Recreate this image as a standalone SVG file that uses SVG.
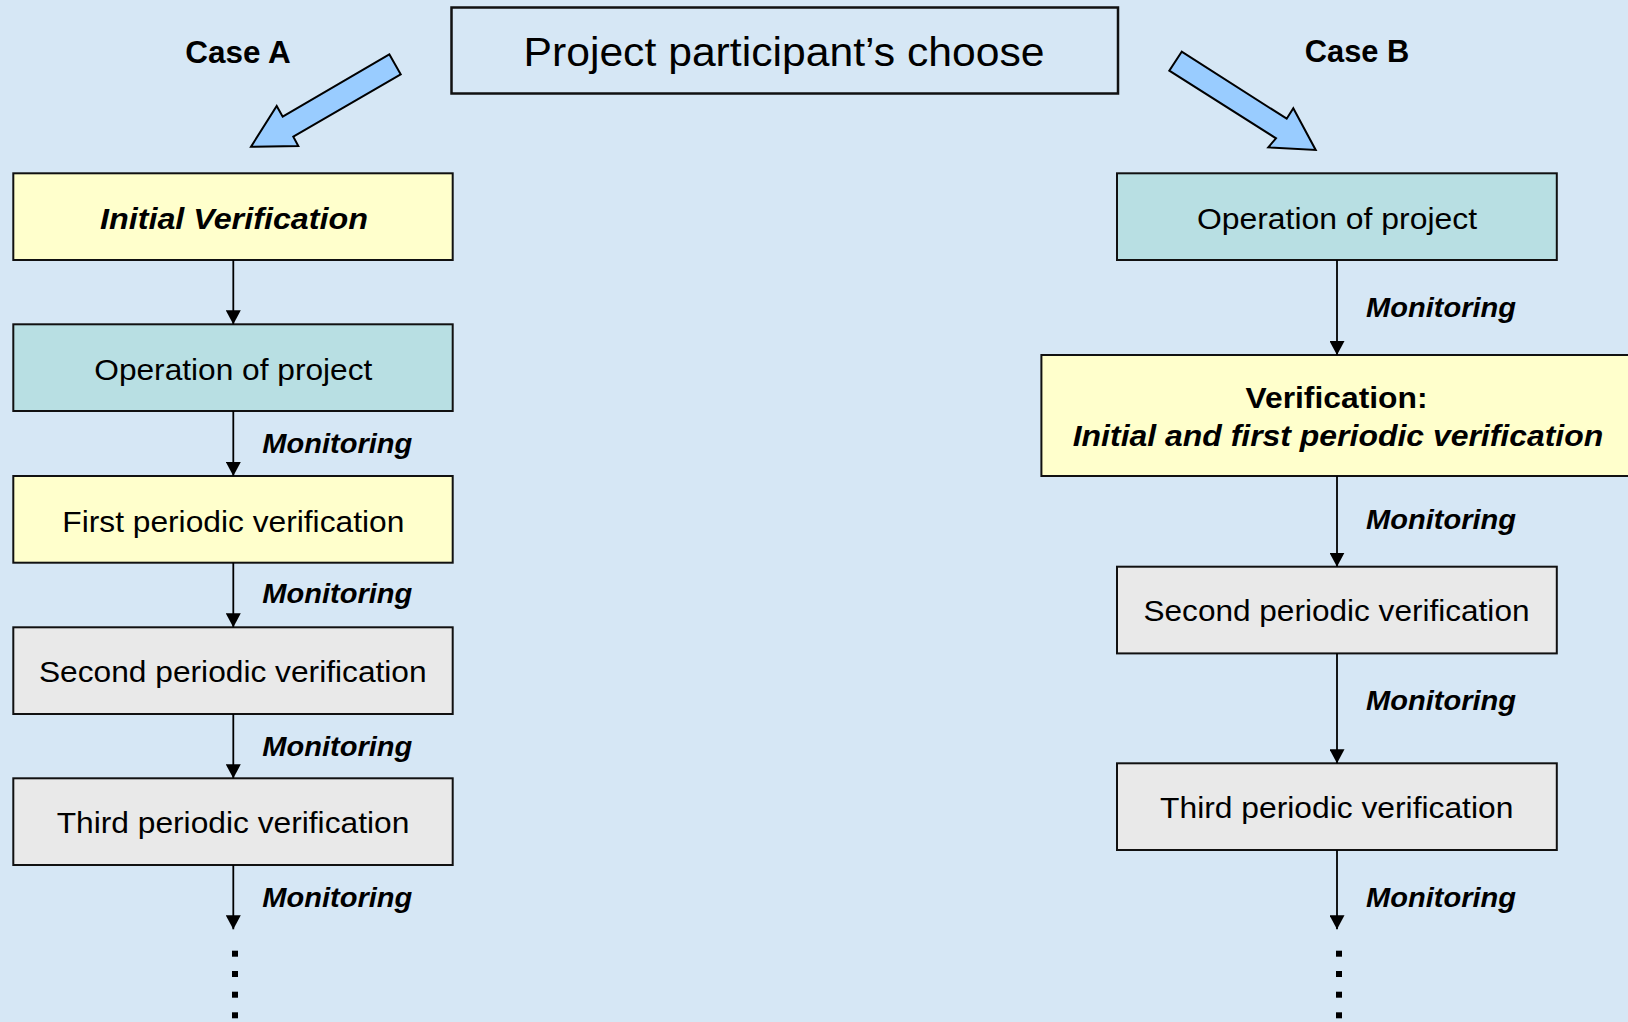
<svg xmlns="http://www.w3.org/2000/svg" width="1628" height="1022" viewBox="0 0 1628 1022">
<style>
.box{stroke:#111;stroke-width:2}
.yel{fill:#FFFFCC}
.teal{fill:#B8DFE3}
.grey{fill:#E9E9E9}
.t{font-family:"Liberation Sans",Arial,sans-serif;font-size:29px;fill:#000;text-anchor:middle}
.bi{font-weight:bold;font-style:italic}
.b{font-weight:bold}
.mon{font-family:"Liberation Sans",Arial,sans-serif;font-size:28px;font-weight:bold;font-style:italic;fill:#000}
.conn{stroke:#000;stroke-width:1.8;fill:none;marker-end:url(#ah)}
.big{fill:#99CCFF;stroke:#000;stroke-width:2;stroke-linejoin:miter}
.dot{fill:#000}
</style>
<defs>
<marker id="ah" viewBox="0 0 14 15" refX="14" refY="7.5" markerWidth="14" markerHeight="15" markerUnits="userSpaceOnUse" orient="auto">
<path d="M0,0 L14,7.5 L0,15 Z" fill="#000"/>
</marker>
</defs>
<rect x="0" y="0" width="1628" height="1022" fill="#D6E7F5"/>

<g id="title">
<rect x="451.5" y="7.5" width="666.5" height="86" fill="none" stroke="#111" stroke-width="2.5"/>
<text class="t" x="784" y="66" style="font-size:40px" textLength="521" lengthAdjust="spacingAndGlyphs">Project participant’s choose</text>
</g>

<g id="caseA-label">
<text class="t b" x="238" y="63.3" style="font-size:31px" textLength="105.5" lengthAdjust="spacingAndGlyphs">Case A</text>
</g>
<g id="caseB-label">
<text class="t b" x="1357" y="62.3" style="font-size:31px" textLength="104.5" lengthAdjust="spacingAndGlyphs">Case B</text>
</g>

<g id="arrowA">
<polygon class="big" points="389.3,54.3 400.7,74.3 293.3,136.7 298.3,146 251,146.7 276.7,106 282.7,116.7"/>
</g>
<g id="arrowB">
<polygon class="big" points="1181.7,51.7 1169.3,70.7 1276,138.3 1268.3,147.3 1315.7,150 1293.3,108.3 1286.7,118.7"/>
</g>

<!-- Case A column -->
<g id="a-initial">
<rect class="box yel" x="13.3" y="173.3" width="439.4" height="86.7"/>
<text class="t bi" x="234" y="229.3" textLength="268" lengthAdjust="spacingAndGlyphs">Initial Verification</text>
</g>
<g id="a-operation">
<rect class="box teal" x="13.3" y="324.3" width="439.4" height="86.7"/>
<text class="t" x="233.3" y="380" textLength="278" lengthAdjust="spacingAndGlyphs">Operation of project</text>
</g>
<g id="a-first">
<rect class="box yel" x="13.3" y="476" width="439.4" height="86.7"/>
<text class="t" x="233.3" y="531.7" textLength="342" lengthAdjust="spacingAndGlyphs">First periodic verification</text>
</g>
<g id="a-second">
<rect class="box grey" x="13.3" y="627.3" width="439.4" height="86.7"/>
<text class="t" x="232.8" y="682.3" textLength="387.7" lengthAdjust="spacingAndGlyphs">Second periodic verification</text>
</g>
<g id="a-third">
<rect class="box grey" x="13.3" y="778.3" width="439.4" height="86.7"/>
<text class="t" x="233" y="833.3" textLength="352.7" lengthAdjust="spacingAndGlyphs">Third periodic verification</text>
</g>

<!-- Case B column -->
<g id="b-operation">
<rect class="box teal" x="1117" y="173.3" width="439.8" height="86.7"/>
<text class="t" x="1337" y="229.3" textLength="280" lengthAdjust="spacingAndGlyphs">Operation of project</text>
</g>
<g id="b-verification">
<rect class="box yel" x="1041.4" y="355" width="600" height="121"/>
<text class="t b" x="1336.5" y="408.3" textLength="182" lengthAdjust="spacingAndGlyphs">Verification:</text>
<text class="t bi" x="1338" y="446" textLength="530.5" lengthAdjust="spacingAndGlyphs">Initial and first periodic verification</text>
</g>
<g id="b-second">
<rect class="box grey" x="1117" y="566.7" width="439.8" height="86.7"/>
<text class="t" x="1336.5" y="620.7" textLength="386" lengthAdjust="spacingAndGlyphs">Second periodic verification</text>
</g>
<g id="b-third">
<rect class="box grey" x="1117" y="763.3" width="439.8" height="86.7"/>
<text class="t" x="1336.7" y="818.3" textLength="353.3" lengthAdjust="spacingAndGlyphs">Third periodic verification</text>
</g>

<g id="connectors">
<line class="conn" x1="233.3" y1="260" x2="233.3" y2="324.3"/>
<line class="conn" x1="233.3" y1="411" x2="233.3" y2="476"/>
<line class="conn" x1="233.3" y1="562.7" x2="233.3" y2="627.3"/>
<line class="conn" x1="233.3" y1="714" x2="233.3" y2="778.3"/>
<line class="conn" x1="233.3" y1="865" x2="233.3" y2="929.3"/>
<line class="conn" x1="1337" y1="260" x2="1337" y2="355"/>
<line class="conn" x1="1337" y1="476" x2="1337" y2="566.7"/>
<line class="conn" x1="1337" y1="653.3" x2="1337" y2="763.3"/>
<line class="conn" x1="1337" y1="850" x2="1337" y2="929.3"/>
<text class="mon" x="262.3" y="452.7" textLength="150" lengthAdjust="spacingAndGlyphs">Monitoring</text>
<text class="mon" x="262.3" y="602.7" textLength="150" lengthAdjust="spacingAndGlyphs">Monitoring</text>
<text class="mon" x="262.3" y="756" textLength="150" lengthAdjust="spacingAndGlyphs">Monitoring</text>
<text class="mon" x="262.3" y="907.3" textLength="150" lengthAdjust="spacingAndGlyphs">Monitoring</text>
<text class="mon" x="1366" y="317.3" textLength="150" lengthAdjust="spacingAndGlyphs">Monitoring</text>
<text class="mon" x="1366" y="529.3" textLength="150" lengthAdjust="spacingAndGlyphs">Monitoring</text>
<text class="mon" x="1366" y="710" textLength="150" lengthAdjust="spacingAndGlyphs">Monitoring</text>
<text class="mon" x="1366" y="906.7" textLength="150" lengthAdjust="spacingAndGlyphs">Monitoring</text>
<rect class="dot" x="232" y="950.7" width="6" height="6"/>
<rect class="dot" x="232" y="971" width="6" height="6"/>
<rect class="dot" x="232" y="991.7" width="6" height="6"/>
<rect class="dot" x="232" y="1012.3" width="6" height="6"/>
<rect class="dot" x="1336" y="950.7" width="6" height="6"/>
<rect class="dot" x="1336" y="971" width="6" height="6"/>
<rect class="dot" x="1336" y="991.7" width="6" height="6"/>
<rect class="dot" x="1336" y="1012.3" width="6" height="6"/>
</g>
</svg>
